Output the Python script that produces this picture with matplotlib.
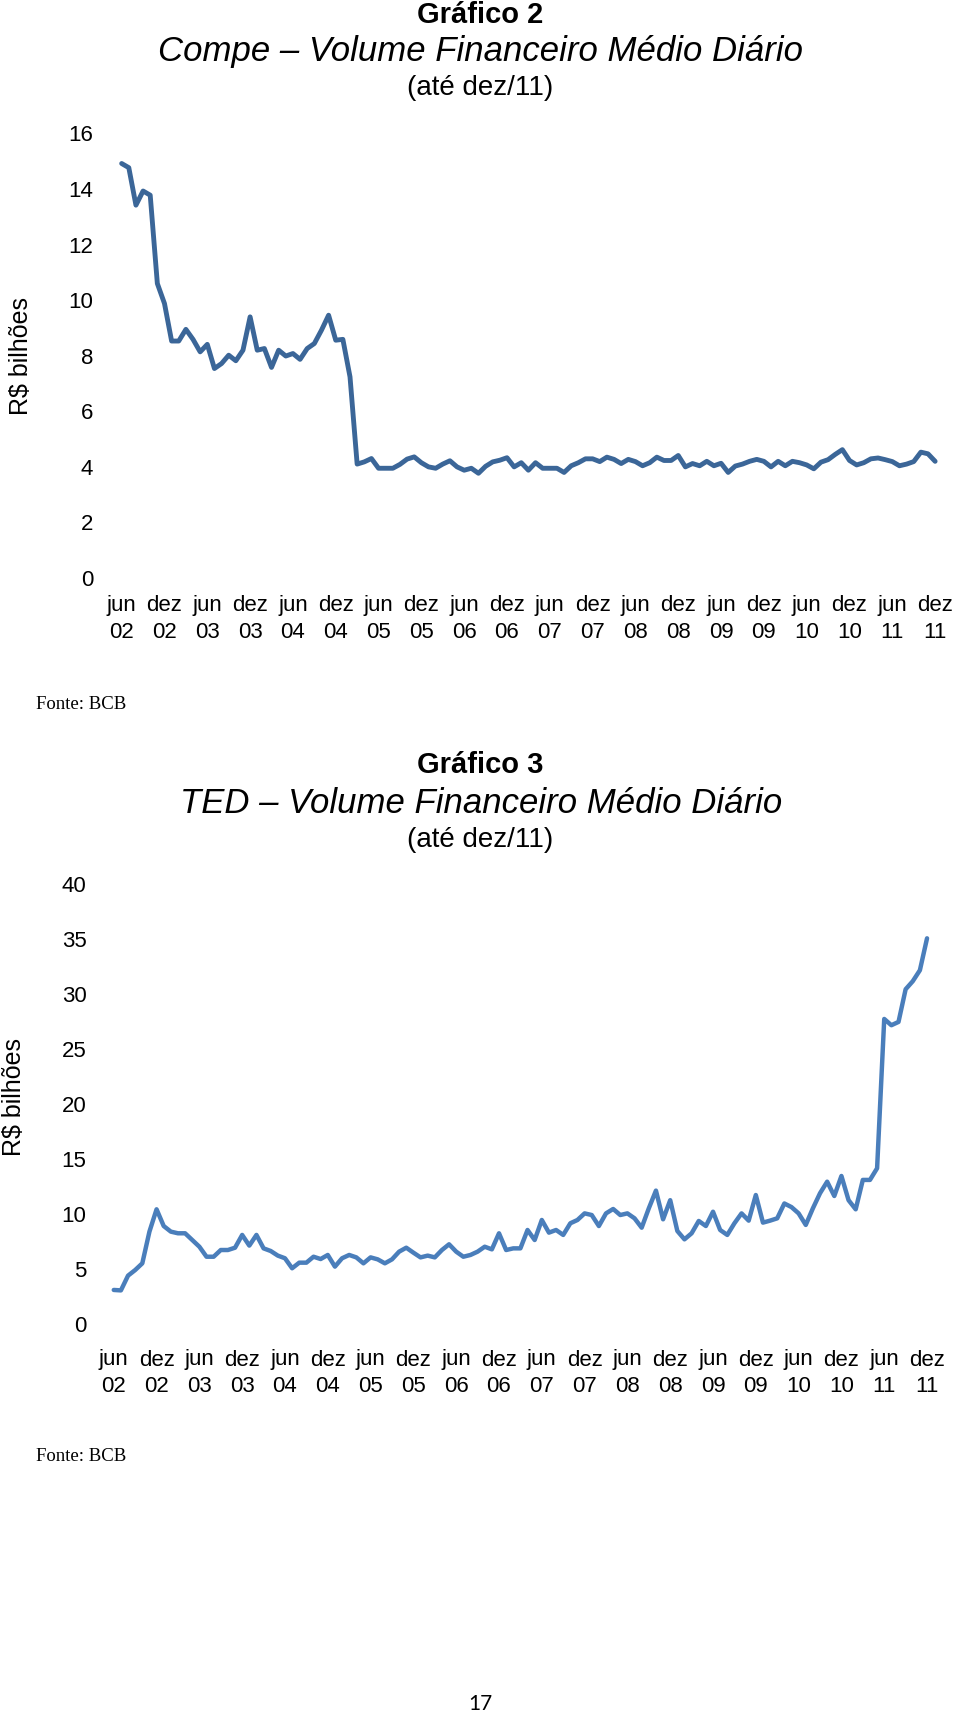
import matplotlib

matplotlib.use("Agg")
import matplotlib.pyplot as plt

# Volume financeiro médio diário (R$ bilhões), mensal de jun/02 a dez/11
compe = [
    14.92, 14.77, 13.42, 13.93, 13.78, 10.60, 9.88, 8.53, 8.53, 8.95,
    8.59, 8.14, 8.41, 7.54, 7.72, 8.02, 7.82, 8.20, 9.40, 8.20,
    8.26, 7.58, 8.20, 7.99, 8.08, 7.87, 8.26, 8.44, 8.92, 9.46,
    8.56, 8.59, 7.24, 4.10, 4.18, 4.30, 3.95, 3.95, 3.95, 4.09,
    4.28, 4.36, 4.15, 4.00, 3.95, 4.10, 4.22, 4.00, 3.88, 3.95,
    3.77, 4.02, 4.18, 4.24, 4.33, 4.00, 4.15, 3.88, 4.15, 3.95,
    3.95, 3.95, 3.80, 4.04, 4.15, 4.29, 4.29, 4.19, 4.35, 4.27,
    4.12, 4.27, 4.19, 4.04, 4.15, 4.35, 4.23, 4.23, 4.41, 4.00,
    4.12, 4.04, 4.20, 4.04, 4.13, 3.80, 4.03, 4.10, 4.20, 4.27,
    4.20, 4.00, 4.20, 4.04, 4.20, 4.15, 4.07, 3.93, 4.17, 4.26,
    4.45, 4.62, 4.23, 4.07, 4.15, 4.29, 4.32, 4.26, 4.19, 4.04,
    4.10, 4.19, 4.53, 4.47, 4.20,
]
ted = [
    3.14, 3.10, 4.44, 4.95, 5.56, 8.44, 10.47, 8.95, 8.44, 8.29,
    8.29, 7.68, 7.07, 6.16, 6.16, 6.77, 6.77, 6.98, 8.14, 7.17,
    8.14, 6.92, 6.68, 6.26, 6.02, 5.11, 5.62, 5.62, 6.16, 5.95,
    6.32, 5.26, 6.02, 6.32, 6.10, 5.56, 6.10, 5.92, 5.56, 5.92,
    6.62, 6.98, 6.53, 6.10, 6.26, 6.10, 6.77, 7.29, 6.62, 6.16,
    6.32, 6.62, 7.07, 6.83, 8.29, 6.77, 6.92, 6.92, 8.59, 7.68,
    9.50, 8.35, 8.59, 8.14, 9.20, 9.50, 10.10, 9.95, 8.95, 10.10,
    10.50, 9.95, 10.10, 9.65, 8.80, 10.56, 12.17, 9.56, 11.30, 8.50,
    7.74, 8.29, 9.41, 8.95, 10.25, 8.59, 8.14, 9.20, 10.10, 9.44,
    11.77, 9.26, 9.44, 9.65, 11.00, 10.67, 10.10, 9.05, 10.56, 11.93,
    12.98, 11.68, 13.50, 11.30, 10.47, 13.14, 13.14, 14.20, 27.77, 27.20,
    27.50, 30.47, 31.20, 32.20, 35.10,
]

tick_months = ["jun", "dez"] * 10
tick_years = ["02", "02", "03", "03", "04", "04", "05", "05", "06", "06",
              "07", "07", "08", "08", "09", "09", "10", "10", "11", "11"]

W, H = 960, 1716
FONT = "Liberation Sans"


def fx(px):
    return px / W


def fy(py):
    return 1 - py / H


def draw_panel(fig, box, values, ymax, ystep, color, lw, ypad, xpad, spacing):
    # box = (left, top, right, bottom) in pixels
    left, top, right, bottom = box
    ax = fig.add_axes([fx(left), fy(bottom), (right - left) / W, (bottom - top) / H])
    ax.plot(range(len(values)), values, color=color, linewidth=lw,
            solid_joinstyle="round", solid_capstyle="round")
    ax.set_xlim(-0.5, len(values) - 0.5)
    ax.set_ylim(0, ymax)
    ax.set_yticks(range(0, ymax + 1, ystep))
    ax.set_xticks(range(0, len(values), 6))
    ax.set_xticklabels([f"{m}\n{y}" for m, y in zip(tick_months, tick_years)],
                       linespacing=spacing)
    for s in ax.spines.values():
        s.set_visible(False)
    ax.tick_params(axis="both", length=0, labelsize=16)
    ax.tick_params(axis="y", pad=ypad)
    ax.tick_params(axis="x", pad=xpad)
    return ax


plt.rcParams["font.family"] = [FONT, "DejaVu Sans"]
fig = plt.figure(figsize=(9.6, 17.16), dpi=100)

# Gráfico 2 - Compe
draw_panel(fig, (118.1, 133.5, 938.7, 578), compe, 16, 2, "#3B6698", 3.5, 18, 12, 1.4)
fig.text(fx(480), fy(23), "Gráfico 2", ha="center", va="baseline",
         fontsize=21, fontweight="bold")
fig.text(fx(480), fy(61), "Compe – Volume Financeiro Médio Diário", ha="center",
         va="baseline", fontsize=25, style="italic")
fig.text(fx(480), fy(95), "(até dez/11)", ha="center", va="baseline", fontsize=20)
fig.text(fx(21), fy(356), "R$ bilhões", rotation=90, ha="center", va="center",
         fontsize=18)
fig.text(fx(36), fy(709), "Fonte: BCB", ha="left", va="baseline", fontsize=13.5,
         family="Liberation Serif")

# Gráfico 3 - TED
draw_panel(fig, (110.2, 884.4, 930.6, 1324.5), ted, 40, 5, "#4A7EBB", 3.2, 17, 18, 1.35)
fig.text(fx(480), fy(773), "Gráfico 3", ha="center", va="baseline",
         fontsize=21, fontweight="bold")
fig.text(fx(481), fy(813), "TED – Volume Financeiro Médio Diário", ha="center",
         va="baseline", fontsize=25, style="italic")
fig.text(fx(480), fy(847), "(até dez/11)", ha="center", va="baseline", fontsize=20)
fig.text(fx(14), fy(1097), "R$ bilhões", rotation=90, ha="center", va="center",
         fontsize=18)
fig.text(fx(36), fy(1461), "Fonte: BCB", ha="left", va="baseline", fontsize=13.5,
         family="Liberation Serif")

# número da página
fig.text(fx(480), fy(1710), "17", ha="center", va="baseline", fontsize=15,
         family="Lato")

fig.savefig("out.png", dpi=100, facecolor="white")
